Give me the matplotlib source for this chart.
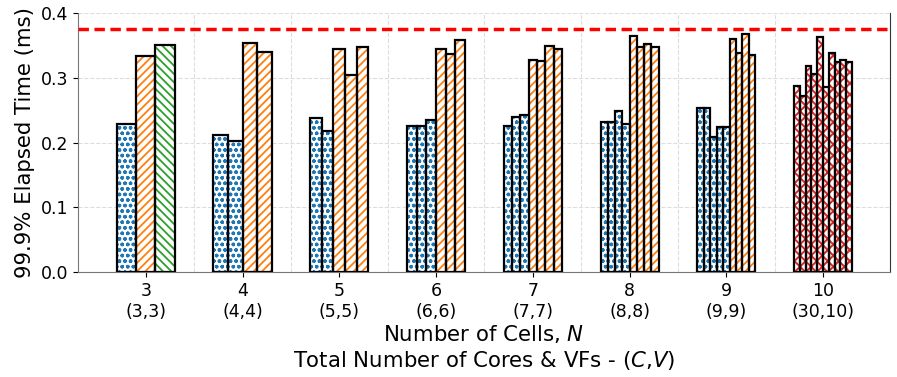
import numpy as np
import matplotlib
matplotlib.use("Agg")
import matplotlib.pyplot as plt

# number of cells and (cores, VFs) labels
cells = [3, 4, 5, 6, 7, 8, 9, 10]
cv_labels = ["(3,3)", "(4,4)", "(5,5)", "(6,6)", "(7,7)", "(8,8)", "(9,9)", "(30,10)"]

# 99.9% elapsed time per bar (ms), grouped by N
blue = {
    3: [0.229],
    4: [0.211, 0.203],
    5: [0.238, 0.218],
    6: [0.226, 0.226, 0.234],
    7: [0.225, 0.240, 0.242],
    8: [0.232, 0.232, 0.248, 0.229],
    9: [0.253, 0.254, 0.208, 0.224, 0.224],
    10: [],
}
orange = {
    3: [0.333],
    4: [0.353, 0.340],
    5: [0.345, 0.305, 0.347],
    6: [0.344, 0.336, 0.358],
    7: [0.328, 0.326, 0.349, 0.345],
    8: [0.364, 0.347, 0.352, 0.348],
    9: [0.360, 0.338, 0.368, 0.335],
    10: [],
}
green = {3: [0.350]}
red = {10: [0.287, 0.272, 0.318, 0.306, 0.363, 0.285, 0.338, 0.325, 0.328, 0.325]}

deadline = 0.375

fig, ax = plt.subplots(figsize=(8.97, 3.77), dpi=100)
fig.subplots_adjust(left=0.087, right=0.992, top=0.9655, bottom=0.2785)

group_w = 0.6
# series dict, colour, hatch, hatch line width
styles = [(blue, "tab:blue", "ooo", 1.0), (orange, "tab:orange", "////", 1.3),
          (green, "tab:green", "\\\\\\\\", 1.3), (red, "tab:red", "xxx", 1.4)]

for n in cells:
    bars = []
    for d, c, h, hl in styles:
        for v in d.get(n, []):
            bars.append((v, c, h, hl))
    k = len(bars)
    w = group_w / k
    xs = n - group_w / 2 + w * (np.arange(k) + 0.5)
    for x, (v, c, h, hl) in zip(xs, bars):
        plt.rcParams["hatch.linewidth"] = hl
        ax.bar(x, v, w, color="white", edgecolor=c, hatch=h, linewidth=0, zorder=3)
        ax.bar(x, v, w, fill=False, edgecolor="black", linewidth=1.6, zorder=4)

ax.axhline(deadline, color="red", linestyle="--", linewidth=2.5, dashes=(3, 1.6), zorder=5)

ax.set_xlim(2.3, 10.69)
ax.set_ylim(0, 0.4)
ax.set_yticks([0.0, 0.1, 0.2, 0.3, 0.4])
ax.set_xticks(cells)
ax.set_xticklabels([f"{n}\n{cv}" for n, cv in zip(cells, cv_labels)], fontsize=12.5)
ax.set_xticks(np.arange(3.5, 10.5, 1), minor=True)
ax.tick_params(axis="x", which="minor", length=0)
ax.tick_params(axis="y", labelsize=12.5)
ax.grid(axis="y", which="major", linestyle="--", color="#dddddd", linewidth=0.8, zorder=0)
ax.grid(axis="x", which="minor", linestyle="--", color="#dddddd", linewidth=0.8, zorder=0)

ax.set_ylabel("99.9% Elapsed Time (ms)", fontsize=15.3)
ax.set_xlabel("Number of Cells, $N$\nTotal Number of Cores & VFs - ($C$,$V$)", fontsize=15.3,
              labelpad=2)

ax.spines["top"].set_visible(False)
for s in ["left", "bottom"]:
    ax.spines[s].set_color("#777777")
ax.spines["right"].set_color("#333333")

plt.savefig("out.png", dpi=100)
